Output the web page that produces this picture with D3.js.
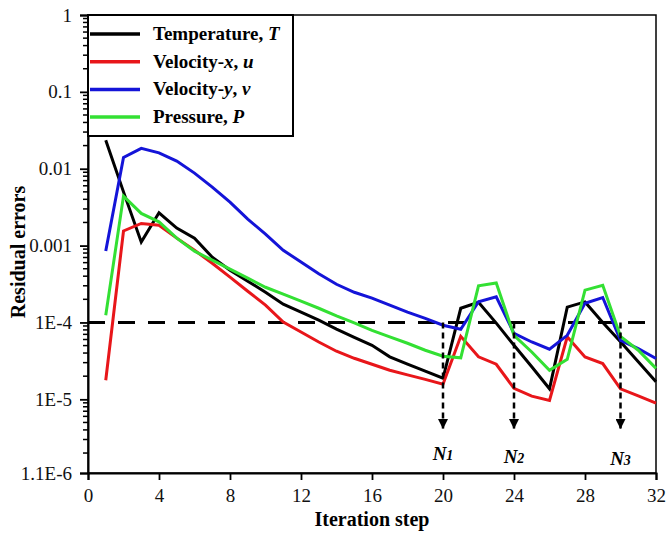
<!DOCTYPE html>
<html>
<head>
<meta charset="utf-8">
<script src="https://cdn.jsdelivr.net/npm/d3@7"></script>
<style>
  body { margin: 0; background: #fff; }
  svg text { font-family: "Liberation Serif", "Times New Roman", serif; }
</style>
</head>
<body>
<svg id="chart" width="669" height="540"></svg>
<script>
// iteration steps 1..32
const steps = d3.range(1, 33);

const temperature = [0.0235, 0.0050, 0.00111, 0.00267, 0.00169, 0.00125, 0.000706, 0.000479,
  0.000344, 0.000247, 0.000173, 0.000136, 0.000107, 8.2e-5, 6.4e-5, 5.05e-5,
  3.57e-5, 2.86e-5, 2.32e-5, 1.88e-5, 1.53e-4, 1.83e-4, 9.8e-5, 5.05e-5,
  2.65e-5, 1.37e-5, 1.58e-4, 1.85e-4, 1.0e-4, 5.6e-5, 3.08e-5, 1.69e-5];

const velocityX = [1.77e-5, 0.00155, 0.00194, 0.00184, 0.00125, 0.00087, 0.00059, 0.000388,
  0.000255, 0.000168, 1.01e-4, 7.5e-5, 5.57e-5, 4.22e-5, 3.42e-5, 2.86e-5,
  2.39e-5, 2.08e-5, 1.82e-5, 1.57e-5, 6.6e-5, 3.57e-5, 2.86e-5, 1.39e-5,
  1.10e-5, 9.7e-6, 6.5e-5, 3.56e-5, 2.92e-5, 1.37e-5, 1.11e-5, 8.9e-6];

const velocityY = [0.00085, 0.0140, 0.0184, 0.0161, 0.01256, 0.00877, 0.00576, 0.00367,
  0.00221, 0.00141, 0.00087, 0.00061, 0.00043, 0.000314, 0.000247, 0.000207,
  0.000168, 0.000136, 0.000113, 9.2e-5, 8.15e-5, 1.86e-4, 2.16e-4, 7.2e-5,
  5.57e-5, 4.48e-5, 6.8e-5, 1.78e-4, 2.11e-4, 5.86e-5, 4.57e-5, 3.39e-5];

const pressure = [1.24e-4, 0.0044, 0.00262, 0.00204, 0.00125, 0.000845, 0.000646, 0.000493,
  0.000377, 0.000287, 0.000233, 0.000189, 0.000153, 0.000122, 9.9e-5, 7.9e-5,
  6.5e-5, 5.36e-5, 4.35e-5, 3.63e-5, 3.47e-5, 3.0e-4, 3.27e-4, 6.8e-5,
  4.13e-5, 2.39e-5, 3.32e-5, 2.63e-4, 3.05e-4, 6.6e-5, 4.35e-5, 2.53e-5];

const xTicks = [0, 4, 8, 12, 16, 20, 24, 28, 32];
const yTicks = [1, 0.1, 0.01, 0.001, 1e-4, 1e-5, 1.1e-6];
const yTickLabels = ["1", "0.1", "0.01", "0.001", "1E-4", "1E-5", "1.1E-6"];

const threshold = 1e-4;
const markers = [{ step: 20, sub: "1" }, { step: 24, sub: "2" }, { step: 30, sub: "3" }];

const series = [
  { name: "Temperature, ", sym: "T", values: temperature, color: "#000000" },
  { name: "Velocity-", ital: "x", name2: ", ", sym: "u", values: velocityX, color: "#e8161a" },
  { name: "Velocity-", ital: "y", name2: ", ", sym: "v", values: velocityY, color: "#1414d8" },
  { name: "Pressure, ", sym: "P", values: pressure, color: "#33e033" }
];

const serif = '"Liberation Serif", "Times New Roman", serif';
const plotLeft = 88, plotRight = 656, plotTop = 15, plotBottom = 473;

const x = d3.scaleLinear().domain([0, 32]).range([plotLeft, plotRight]);
const y = d3.scaleLog().domain([1.1e-6, 1]).range([plotBottom, plotTop]);

const svg = d3.select('#chart');

// frame
svg.append('rect')
  .attr('x', plotLeft).attr('y', plotTop)
  .attr('width', plotRight - plotLeft).attr('height', plotBottom - plotTop)
  .attr('fill', 'none').attr('stroke', '#000').attr('stroke-width', 1.5);

// x axis
const xAxis = d3.axisBottom(x).tickValues(xTicks).tickSize(7).tickPadding(9);
const gx = svg.append('g').attr('transform', `translate(0,${plotBottom})`).call(xAxis)
  .attr('font-family', serif).attr('font-size', 19);
gx.select('.domain').attr('stroke-width', 2);
gx.selectAll('.tick line').attr('stroke-width', 1.8);
gx.selectAll('.tick text').attr('fill', '#111');

// y axis, major ticks
const yAxis = d3.axisLeft(y).tickValues(yTicks)
  .tickFormat((d, i) => yTickLabels[i]).tickSize(8).tickPadding(8);
const gy = svg.append('g').attr('transform', `translate(${plotLeft},0)`).call(yAxis)
  .attr('font-family', serif).attr('font-size', 19);
gy.select('.domain').attr('stroke-width', 2);
gy.selectAll('.tick line').attr('stroke-width', 1.8);
gy.selectAll('.tick text').attr('fill', '#111');

// y axis, minor ticks
const minor = [];
for (let e = -6; e < 0; e++) {
  for (let m = 2; m < 10; m++) {
    const v = m * Math.pow(10, e);
    if (v > 1.1e-6 && v < 1) minor.push(v);
  }
}
svg.append('g').selectAll('line').data(minor).join('line')
  .attr('x1', plotLeft - 5).attr('x2', plotLeft)
  .attr('y1', d => y(d)).attr('y2', d => y(d))
  .attr('stroke', '#000').attr('stroke-width', 1.5);

// axis titles
svg.append('text')
  .attr('transform', 'translate(25,252) rotate(-90)')
  .attr('text-anchor', 'middle')
  .attr('font-size', 20).attr('font-weight', 'bold')
  .text('Residual errors');

svg.append('text')
  .attr('x', 372).attr('y', 526)
  .attr('text-anchor', 'middle')
  .attr('font-size', 20).attr('font-weight', 'bold')
  .text('Iteration step');

// threshold line
svg.append('line')
  .attr('x1', plotLeft).attr('x2', plotRight)
  .attr('y1', y(threshold)).attr('y2', y(threshold))
  .attr('stroke', '#000').attr('stroke-width', 3)
  .attr('stroke-dasharray', '17,13');

// series
const line = d3.line().x((d, i) => x(steps[i])).y(d => y(d));
svg.append('g').selectAll('path').data(series).join('path')
  .attr('d', d => line(d.values))
  .attr('fill', 'none')
  .attr('stroke', d => d.color)
  .attr('stroke-width', 3)
  .attr('stroke-linejoin', 'miter');

// arrows N1, N2, N3
svg.append('defs').append('marker')
  .attr('id', 'head')
  .attr('viewBox', '0 0 10 10')
  .attr('refX', 10).attr('refY', 5)
  .attr('markerWidth', 10).attr('markerHeight', 10)
  .attr('markerUnits', 'userSpaceOnUse')
  .attr('orient', 'auto')
  .append('path').attr('d', 'M0,0 L10,5 L0,10 Z').attr('fill', '#000');

const mk = svg.append('g').selectAll('g').data(markers).join('g');
mk.append('line')
  .attr('x1', d => x(d.step)).attr('x2', d => x(d.step))
  .attr('y1', y(threshold)).attr('y2', 429)
  .attr('stroke', '#000').attr('stroke-width', 2.5)
  .attr('stroke-dasharray', '6,4')
  .attr('marker-end', 'url(#head)');
const mt = mk.append('text')
  .attr('x', d => x(d.step)).attr('y', (d, i) => 460 + i * 2.5)
  .attr('text-anchor', 'middle')
  .attr('font-size', 19).attr('font-weight', 'bold').attr('font-style', 'italic');
mt.append('tspan').text('N');
mt.append('tspan').attr('font-size', 14).text(d => d.sub);

// legend
const lg = svg.append('g');
lg.append('rect')
  .attr('x', plotLeft).attr('y', plotTop).attr('width', 205).attr('height', 121)
  .attr('fill', '#fff').attr('stroke', '#000').attr('stroke-width', 2);
const items = lg.selectAll('g').data(series).join('g')
  .attr('transform', (d, i) => `translate(0,${34 + i * 27.7})`);
items.append('line')
  .attr('x1', 90).attr('x2', 140).attr('y1', 0).attr('y2', 0)
  .attr('stroke', d => d.color).attr('stroke-width', 3.5);
const lt = items.append('text')
  .attr('x', 153).attr('y', 6)
  .attr('font-size', 19).attr('font-weight', 'bold');
lt.append('tspan').text(d => d.name);
lt.filter(d => d.ital).append('tspan').attr('font-style', 'italic').text(d => d.ital);
lt.filter(d => d.name2).append('tspan').text(d => d.name2);
lt.append('tspan').attr('font-style', 'italic').text(d => d.sym);
</script>
</body>
</html>
